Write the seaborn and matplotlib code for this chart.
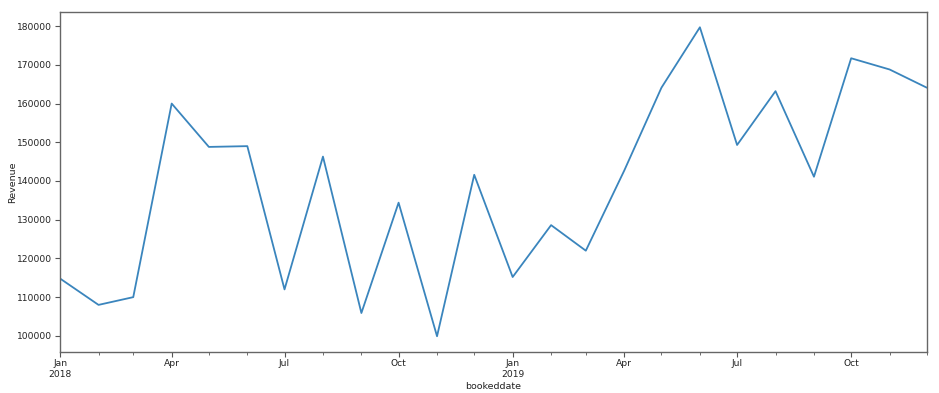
import matplotlib
matplotlib.use("Agg")
import matplotlib.pyplot as plt
import matplotlib.dates as mdates
import seaborn as sns
import pandas as pd

months = pd.date_range("2018-01-01", "2019-12-01", freq="MS")
revenue = [114800, 108000, 110000, 160000, 148800, 149000, 112000, 146300,
           105900, 134400, 99900, 141600, 115200, 128600, 122000, 142700,
           164100, 179700, 149300, 163200, 141100, 171700, 168800, 164100]

df = pd.DataFrame({"bookeddate": months, "Revenue": revenue})

sns.set_style("white")
plt.rcParams["font.family"] = ["DejaVu Sans"]

fig = plt.figure(figsize=(9.39, 3.93), dpi=100)
ax = fig.add_axes([0.064, 0.105, 0.923, 0.865])
sns.lineplot(data=df, x="bookeddate", y="Revenue", ax=ax, color="#3a85bd", linewidth=1.3)

ax.set_xlim(months[0], months[-1])
ax.set_ylim(95900, 183700)

ax.xaxis.set_major_locator(mdates.MonthLocator(bymonth=[1, 4, 7, 10]))
ax.xaxis.set_minor_locator(mdates.MonthLocator())

def fmt(x, pos=None):
    d = mdates.num2date(x)
    s = d.strftime("%b")
    if d.month == 1:
        s += "\n" + d.strftime("%Y")
    return s

ax.xaxis.set_major_formatter(plt.FuncFormatter(fmt))
ax.xaxis.set_minor_formatter(plt.NullFormatter())

ax.tick_params(axis="both", which="major", labelsize=6.6, length=3.5, width=0.8, color="#555555", labelcolor="#222222", pad=2, left=True, bottom=True)
ax.tick_params(axis="x", which="minor", length=2, width=0.6, color="#555555", bottom=True)
for s in ax.spines.values():
    s.set_color("#666666")
    s.set_linewidth(1.0)

ax.set_xlabel("bookeddate", fontsize=6.8, color="#222222", labelpad=2)
ax.set_ylabel("Revenue", fontsize=6.8, color="#222222")
ax.yaxis.set_label_coords(-0.05, 0.5)

fig.savefig("out.png", dpi=100)
